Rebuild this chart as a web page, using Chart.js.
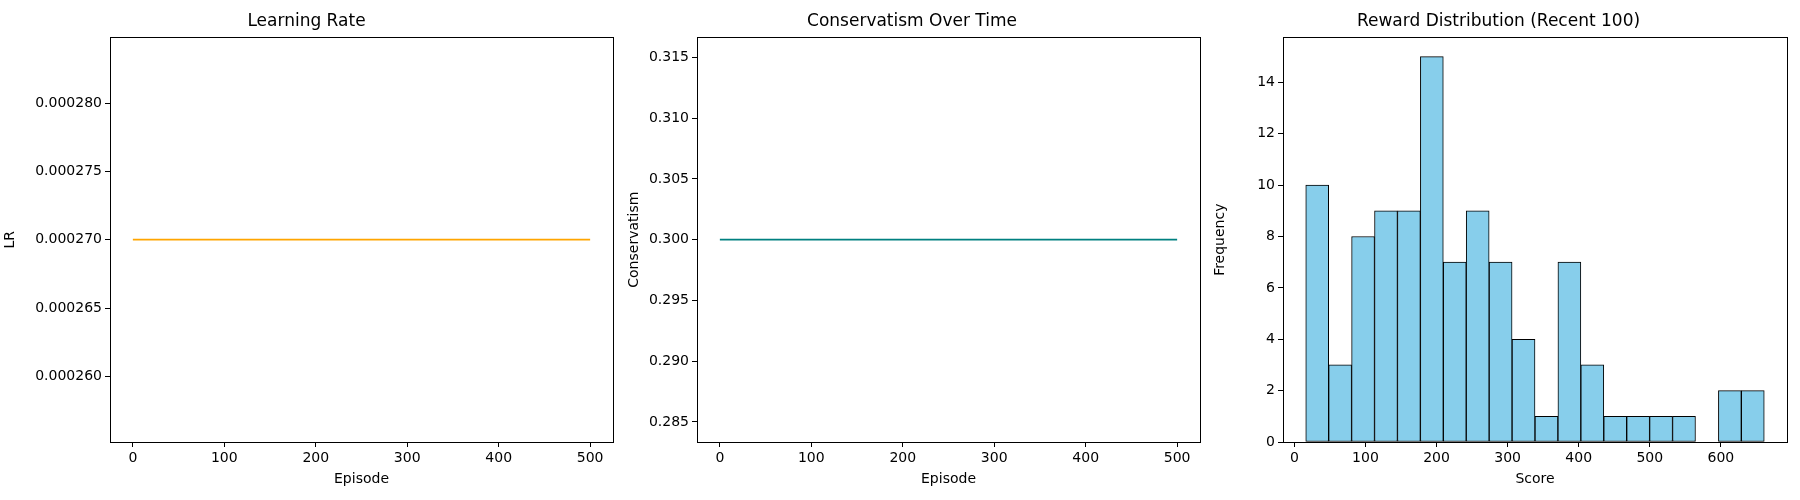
<!DOCTYPE html>
<html>
<head>
    <meta charset="UTF-8">
    <title>Training dashboard</title>
    <script src="https://cdn.jsdelivr.net/npm/chart.js"></script>
    <style>
        body { margin: 0; background: #fff; width: 1800px; height: 500px; position: relative; overflow: hidden; }
        .box { position: absolute; top: 0; height: 490px; }
    </style>
</head>
<body>
    <div class="box" style="left:0;width:624px"><canvas id="lrChart"></canvas></div>
    <div class="box" style="left:624px;width:586px"><canvas id="consChart"></canvas></div>
    <div class="box" style="left:1210px;width:590px"><canvas id="histChart"></canvas></div>
    <script>
        // data
        const episodes = [0, 500];
        const lrValues = [0.00027, 0.00027];
        const consValues = [0.3, 0.3];
        const binEdges = [16, 48.25, 80.5, 112.75, 145, 177.25, 209.5, 241.75, 274, 306.25, 338.5, 370.75, 403, 435.25, 467.5, 499.75, 532, 564.25, 596.5, 628.75, 661];
        const binCounts = [10, 3, 8, 9, 9, 15, 7, 9, 7, 4, 1, 7, 3, 1, 1, 1, 1, 0, 2, 2];
        const episodeTicks = [0, 100, 200, 300, 400, 500];
        const lrTicks = [0.00026, 0.000265, 0.00027, 0.000275, 0.00028];
        const consTicks = [0.285, 0.29, 0.295, 0.3, 0.305, 0.31, 0.315];
        const scoreTicks = [0, 100, 200, 300, 400, 500, 600];
        const freqTicks = [0, 2, 4, 6, 8, 10, 12, 14];

        Chart.defaults.font.family = 'DejaVu Sans';
        Chart.defaults.color = '#000';
        Chart.defaults.animation = false;

        // full box around the plot area, like matplotlib
        const frame = {
            id: 'frame',
            afterDraw(chart) {
                const a = chart.chartArea, ctx = chart.ctx;
                ctx.save();
                ctx.strokeStyle = '#000';
                ctx.lineWidth = 1;
                ctx.strokeRect(Math.round(a.left) + 0.5, Math.round(a.top) + 0.5, Math.round(a.right - a.left), Math.round(a.bottom - a.top));
                ctx.restore();
            }
        };

        function axis(opts) {
            return {
                type: 'linear',
                min: opts.min, max: opts.max,
                offset: false,
                border: { color: '#000', width: 1 },
                grid: { display: true, offset: false, drawOnChartArea: false, drawTicks: true, tickLength: 5, color: '#000' },
                ticks: { font: { size: 14 }, padding: 3, callback: opts.fmt || (v => v) },
                title: { display: true, text: opts.title, font: { size: 14 }, padding: 2 },
                afterBuildTicks: s => { s.ticks = opts.ticks.map(v => ({ value: v })); },
                afterFit: s => { if (opts.w) s.width = opts.w; if (opts.h) s.height = opts.h; }
            };
        }

        function baseOptions(title, x, y, padRight) {
            return {
                responsive: true, maintainAspectRatio: false,
                layout: { padding: { right: padRight, top: 0, left: 0, bottom: 0 } },
                plugins: {
                    legend: { display: false },
                    tooltip: { enabled: false },
                    title: { display: true, text: title, font: { size: 17, weight: 'normal' }, padding: { top: 11, bottom: 6 } }
                },
                scales: { x: x, y: y }
            };
        }

        function lineChart(id, values, color, title, ytitle, yr, yticks, fmt, yw, padRight) {
            new Chart(document.getElementById(id), {
                type: 'line',
                data: {
                    datasets: [{
                        data: episodes.map((e, i) => ({ x: e, y: values[i] })),
                        borderColor: color, borderWidth: 1.7, pointRadius: 0, fill: false
                    }]
                },
                options: baseOptions(title,
                    axis({ min: -25, max: 525, ticks: episodeTicks, title: 'Episode', h: 48 }),
                    axis({ min: yr[0], max: yr[1], ticks: yticks, title: ytitle, fmt: fmt, w: yw }),
                    padRight),
                plugins: [frame]
            });
        }

        lineChart('lrChart', lrValues, '#FFA500', 'Learning Rate', 'LR',
            [0.0002552, 0.0002848], lrTicks, v => v.toFixed(6), 110, 11);
        lineChart('consChart', consValues, '#008080', 'Conservatism Over Time', 'Conservatism',
            [0.28335, 0.31665], consTicks, v => v.toFixed(3), 73, 10);

        const centers = binCounts.map((c, i) => ({ x: (binEdges[i] + binEdges[i + 1]) / 2, y: c }));
        new Chart(document.getElementById('histChart'), {
            type: 'bar',
            data: {
                datasets: [{
                    data: centers,
                    backgroundColor: '#87CEEB', borderColor: '#000', borderWidth: 1,
                    barPercentage: 1, categoryPercentage: 1, borderSkipped: false
                }]
            },
            options: baseOptions('Reward Distribution (Recent 100)',
                axis({ min: -16, max: 693, ticks: scoreTicks, title: 'Score', h: 48 }),
                axis({ min: 0, max: 15.75, ticks: freqTicks, title: 'Frequency', w: 73 }),
                13),
            plugins: [frame]
        });
    </script>
</body>
</html>
